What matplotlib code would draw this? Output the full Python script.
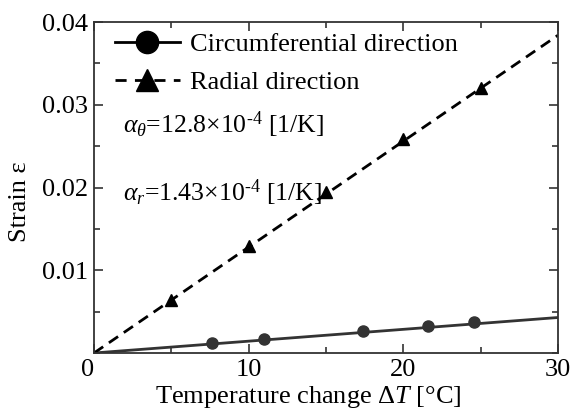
import matplotlib
matplotlib.use("Agg")
import matplotlib.pyplot as plt
from matplotlib.lines import Line2D
from matplotlib.ticker import MultipleLocator, FixedLocator, FixedFormatter

plt.rcParams['font.family'] = ['Liberation Serif', 'DejaVu Serif']
plt.rcParams['mathtext.fontset'] = 'custom'
plt.rcParams['mathtext.rm'] = 'Liberation Serif'
plt.rcParams['mathtext.it'] = 'Liberation Serif:italic'

# data
circ_x = [7.6, 11.0, 17.4, 21.6, 24.6]
circ_y = [0.00125, 0.00173, 0.00266, 0.00322, 0.00375]
rad_x = [5, 10, 15, 20, 25]
rad_y = [0.0064, 0.0129, 0.0195, 0.0259, 0.0320]
fit_x = [0, 30]
alpha_theta = 12.8e-4
alpha_r = 1.43e-4
circ_fit = [alpha_r * x for x in fit_x]
rad_fit = [alpha_theta * x for x in fit_x]

xticks = [0, 10, 20, 30]
yticks = [0.01, 0.02, 0.03, 0.04]
ytick_labels = ['0.01', '0.02', '0.03', '0.04']

FS = 19

fig = plt.figure(figsize=(5.74, 4.15), dpi=100)
ax = fig.add_axes([94/574, 1 - 353/415, (558-94)/574, (353-22)/415])

ax.plot(fit_x, circ_fit, '-', color='#333333', lw=2.0)
ax.plot(fit_x, rad_fit, '--', color='black', lw=2.0, dashes=(4, 2.5))
ax.plot(circ_x, circ_y, 'o', color='#333333', ms=8, ls='none')
ax.plot(rad_x, rad_y, '^', color='black', ms=8, ls='none')

ax.set_xlim(0, 30)
ax.set_ylim(0, 0.04)
ax.xaxis.set_major_locator(FixedLocator(xticks))
ax.xaxis.set_minor_locator(MultipleLocator(5))
ax.yaxis.set_major_locator(FixedLocator(yticks))
ax.yaxis.set_major_formatter(FixedFormatter(ytick_labels))
ax.yaxis.set_minor_locator(MultipleLocator(0.005))
ax.tick_params(which='both', direction='in', top=True, right=True,
               color='#333333', width=1.2, labelsize=FS)
ax.tick_params(which='major', length=6.5, pad=4)
ax.tick_params(which='minor', length=4.5)
for s in ax.spines.values():
    s.set_linewidth(1.3)
    s.set_color('#333333')

fig.canvas.draw()
ax.get_xticklabels()[0].set_horizontalalignment('right')

ax.set_xlabel(r'Temperature change $\Delta\mathit{T}$ [°C]', fontsize=FS)
ax.xaxis.set_label_coords(0.461, -0.093)
ax.set_ylabel('Strain ε', fontsize=FS)
ax.yaxis.set_label_coords(-0.135, 0.456)

handles = [
    Line2D([], [], color='black', lw=2.0, marker='o', ms=16),
    Line2D([], [], color='black', lw=2.0, ls='--', dashes=(4, 3), marker='^', ms=16),
]
ax.legend(handles, ['Circumferential direction', 'Radial direction'],
          loc='upper left', frameon=False, fontsize=FS, handlelength=2.45,
          handletextpad=0.38, borderaxespad=0.0, labelspacing=0.55,
          borderpad=0.0, bbox_to_anchor=(0.045, 0.968))

ax.text(0.062, 0.689, r'$\alpha_\theta$=12.8×10$^{\text{-4}}$ [1/K]', transform=ax.transAxes,
        fontsize=18.5, va='center', ha='left')
ax.text(0.062, 0.483, r'$\alpha_r$=1.43×10$^{\text{-4}}$ [1/K]', transform=ax.transAxes,
        fontsize=18.5, va='center', ha='left')

fig.savefig('out.png', dpi=100)
